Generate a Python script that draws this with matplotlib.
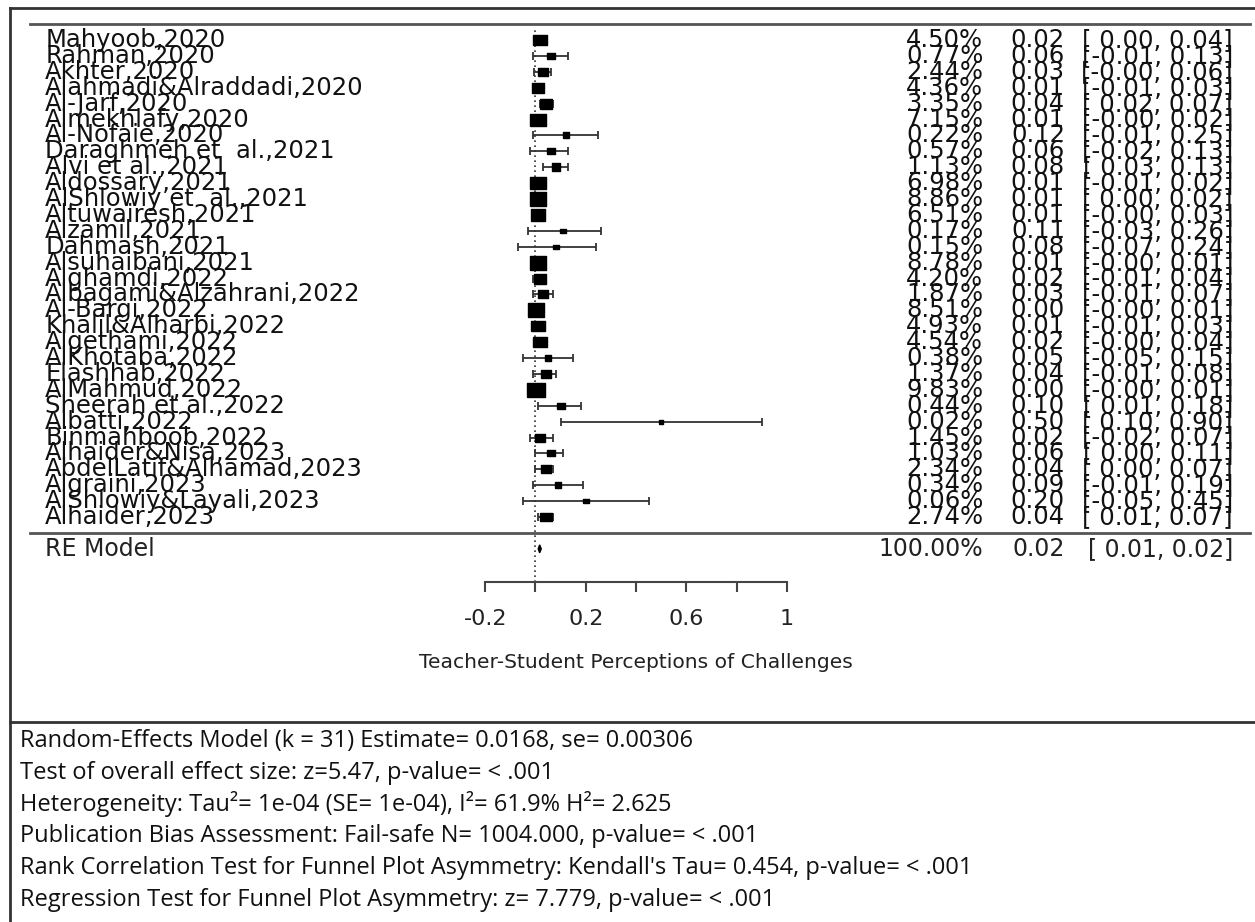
import numpy as np
import matplotlib
matplotlib.use("Agg")
import matplotlib.pyplot as plt
from matplotlib.lines import Line2D

# study data
studies = ["Mahyoob,2020", "Rahman,2020", "Akhter,2020", "Alahmadi&Alraddadi,2020",
           "Al-Jarf,2020", "Almekhlafy,2020", "Al-Nofaie,2020", "Daraghmeh et  al.,2021",
           "Alvi et al.,2021", "Aldossary,2021", "AlShlowiy et  al.,2021", "Altuwairesh,2021",
           "Alzamil,2021", "Dahmash,2021", "Alsuhaibani,2021", "Alghamdi,2022",
           "Albagami&Alzahrani,2022", "Al-Bargi,2022", "Khalil&Alharbi,2022", "Algethami,2022",
           "AlKhotaba,2022", "Elashhab,2022", "AlMahmud,2022", "Sheerah et al.,2022",
           "Albatti,2022", "Binmahboob,2022", "Alhaider&Nisa,2023", "AbdelLatif&Alhamad,2023",
           "Algraini,2023", "AlShlowiy&Layali,2023", "Alhaider,2023"]
weights = [4.50, 0.77, 2.44, 4.36, 3.35, 7.15, 0.22, 0.57, 1.13, 6.98, 8.86, 6.51, 0.17,
           0.15, 8.78, 4.20, 1.87, 8.51, 4.93, 4.54, 0.38, 1.37, 9.83, 0.44, 0.02, 1.45,
           1.03, 2.34, 0.34, 0.06, 2.74]
est = [0.02, 0.06, 0.03, 0.01, 0.04, 0.01, 0.12, 0.06, 0.08, 0.01, 0.01, 0.01, 0.11,
       0.08, 0.01, 0.02, 0.03, 0.004, 0.01, 0.02, 0.05, 0.04, 0.004, 0.10, 0.50, 0.02,
       0.06, 0.04, 0.09, 0.20, 0.04]
ci_lo = [0.00, -0.01, -0.004, -0.01, 0.02, -0.004, -0.01, -0.02, 0.03, -0.01, 0.00, -0.004,
         -0.03, -0.07, -0.004, -0.01, -0.01, -0.004, -0.01, -0.004, -0.05, -0.01, -0.004,
         0.01, 0.10, -0.02, 0.00, 0.00, -0.01, -0.05, 0.01]
ci_hi = [0.04, 0.13, 0.06, 0.03, 0.07, 0.02, 0.25, 0.13, 0.13, 0.02, 0.02, 0.03, 0.26,
         0.24, 0.01, 0.04, 0.07, 0.01, 0.03, 0.04, 0.15, 0.08, 0.01, 0.18, 0.90, 0.07,
         0.11, 0.07, 0.19, 0.45, 0.07]
re_est = 0.0168
re_ci = [0.011, 0.023]
re_weight = "100.00%"
x_ticks = [-0.2, 0.0, 0.2, 0.4, 0.6, 0.8, 1.0]
x_ticklabels = ["-0.2", "", "0.2", "", "0.6", "", "1"]
stats_lines = [
    "Random-Effects Model (k = 31) Estimate= 0.0168, se= 0.00306",
    "Test of overall effect size: z=5.47, p-value= < .001",
    "Heterogeneity: Tau\u00b2= 1e-04 (SE= 1e-04), I\u00b2= 61.9% H\u00b2= 2.625",
    "Publication Bias Assessment: Fail-safe N= 1004.000, p-value= < .001",
    "Rank Correlation Test for Funnel Plot Asymmetry: Kendall's Tau= 0.454, p-value= < .001",
    "Regression Test for Funnel Plot Asymmetry: z= 7.779, p-value= < .001",
]

k = len(studies)
ypos = np.arange(k, 0, -1)

fig = plt.figure(figsize=(12.55, 9.22), dpi=100)
fig.patch.set_facecolor("white")
ax = fig.add_axes([0, 0, 1, 1])
ax.set_facecolor("none")
ax.set_xlim(-2.129, 2.861)
ax.set_ylim(-24.47, 33.52)

# confidence intervals with caps
ax.errorbar(est, ypos, xerr=[np.array(est) - np.array(ci_lo), np.array(ci_hi) - np.array(est)],
            fmt="none", ecolor="#333333", elinewidth=1.3, capsize=3, capthick=1.3, zorder=2)
# boxes, a bit wider than tall like the reference
box = [(-1.25, -1), (1.25, -1), (1.25, 1), (-1.25, 1), (-1.25, -1)]
for e, y, w in zip(est, ypos, weights):
    ms = (4.4 + 4.1 * np.sqrt(w)) * 0.72
    ax.plot(e, y, marker=box, ms=ms, color="black", mec="black", ls="none", zorder=3)

# summary diamond
ax.fill([re_ci[0], re_est, re_ci[1], re_est], [-1, -0.75, -1, -1.25],
        color="black", zorder=3)

# reference line and separators
ax.plot([0, 0], [-3.1, 31.8], ls=(0, (1, 2)), color="#333333", lw=1.2, zorder=1)
ax.axhline(k + 1, xmin=0.024, xmax=0.996, color="#555555", lw=2)
ax.axhline(0, xmin=0.024, xmax=0.996, color="#555555", lw=2)

# x axis
for s in ["top", "left", "right"]:
    ax.spines[s].set_visible(False)
ax.spines["bottom"].set_position(("data", -3.1))
ax.spines["bottom"].set_bounds(-0.2, 1.0)
ax.spines["bottom"].set_color("#444444")
ax.spines["bottom"].set_linewidth(1.5)
ax.set_xticks(x_ticks)
ax.set_xticklabels(x_ticklabels)
ax.tick_params(axis="x", direction="out", length=7.5, width=1.5, color="#444444",
               labelsize=16, pad=12, labelcolor="#222222")
ax.set_yticks([])
ax.text(0.4, -8.12, "Teacher-Student Perceptions of Challenges", ha="center", va="center",
        fontsize=14.6, color="#222222")

# study text columns
tr = ax.get_yaxis_transform()
fs = 17.5
for y, name, w, e, lo, hi in zip(ypos, studies, weights, est, ci_lo, ci_hi):
    ax.text(0.036, y, name, transform=tr, ha="left", va="center", fontsize=fs, color="#111111")
    ax.text(0.7835, y, f"{w:.2f}%", transform=tr, ha="right", va="center", fontsize=fs,
            color="#111111")
    ax.text(0.8486, y, f"{e:.2f}", transform=tr, ha="right", va="center", fontsize=fs,
            color="#111111")
    ax.text(0.9825, y, f"[{lo:5.2f}, {hi:.2f}]", transform=tr, ha="right", va="center",
            fontsize=fs, color="#111111")
fs_re = 17
ax.text(0.036, -1, "RE Model", transform=tr, ha="left", va="center", fontsize=fs_re,
        color="#222222")
ax.text(0.7835, -1, re_weight, transform=tr, ha="right", va="center", fontsize=fs_re,
        color="#222222")
ax.text(0.8486, -1, f"{re_est:.2f}", transform=tr, ha="right", va="center", fontsize=fs_re,
        color="#222222")
ax.text(0.9825, -1, f"[{re_ci[0]:5.2f}, {re_ci[1]:.2f}]", transform=tr, ha="right",
        va="center", fontsize=fs_re, color="#222222")

# outer frame and stats panel
frame = dict(color="#333333", lw=2)
fig.add_artist(Line2D([0.008, 1.0], [0.9913, 0.9913], **frame))
fig.add_artist(Line2D([0.008, 0.008], [0.0, 0.9913], **frame))
fig.add_artist(Line2D([0.008, 1.0], [0.2169, 0.2169], **frame))
for i, line in enumerate(stats_lines):
    fig.text(0.016, 1 - (741 + i * 31.7) / 922, line, ha="left", va="center",
             fontsize=17, family="Open Sans", color="#111111")

fig.savefig("out.png", dpi=100)
